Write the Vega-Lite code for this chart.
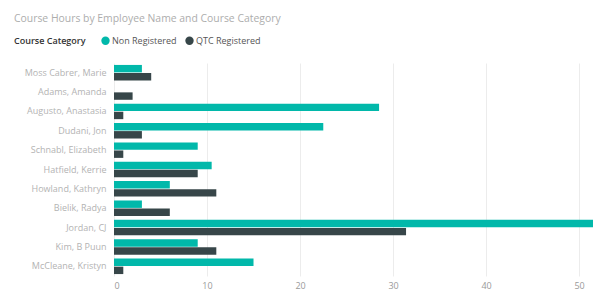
{
  "$schema": "https://vega.github.io/schema/vega-lite/v6.json",
  "autosize": {"type": "fit", "contains": "padding"},
  "width": 593,
  "height": 291,
  "padding": {"left": 10, "top": 13, "right": 0, "bottom": 0},
  "background": "white",
  "title": {
    "text": "Course Hours by Employee Name and Course Category",
    "anchor": "start",
    "frame": "bounds",
    "font": "Open Sans",
    "fontSize": 10.4,
    "fontWeight": "normal",
    "color": "#adadad",
    "offset": 39,
    "dx": 4
  },
  "data": {
    "values": [
      {"name": "Moss Cabrer, Marie", "category": "Non Registered", "hours": 3},
      {"name": "Moss Cabrer, Marie", "category": "QTC Registered", "hours": 4},
      {"name": "Adams, Amanda", "category": "QTC Registered", "hours": 2},
      {"name": "Augusto, Anastasia", "category": "Non Registered", "hours": 28.5},
      {"name": "Augusto, Anastasia", "category": "QTC Registered", "hours": 1},
      {"name": "Dudani, Jon", "category": "Non Registered", "hours": 22.5},
      {"name": "Dudani, Jon", "category": "QTC Registered", "hours": 3},
      {"name": "Schnabl, Elizabeth", "category": "Non Registered", "hours": 9},
      {"name": "Schnabl, Elizabeth", "category": "QTC Registered", "hours": 1},
      {"name": "Hatfield, Kerrie", "category": "Non Registered", "hours": 10.5},
      {"name": "Hatfield, Kerrie", "category": "QTC Registered", "hours": 9},
      {"name": "Howland, Kathryn", "category": "Non Registered", "hours": 6},
      {"name": "Howland, Kathryn", "category": "QTC Registered", "hours": 11},
      {"name": "Bielik, Radya", "category": "Non Registered", "hours": 3},
      {"name": "Bielik, Radya", "category": "QTC Registered", "hours": 6},
      {"name": "Jordan, CJ", "category": "Non Registered", "hours": 56},
      {"name": "Jordan, CJ", "category": "QTC Registered", "hours": 31.4},
      {"name": "Kim, B Puun", "category": "Non Registered", "hours": 9},
      {"name": "Kim, B Puun", "category": "QTC Registered", "hours": 11},
      {"name": "McCleane, Kristyn", "category": "Non Registered", "hours": 15},
      {"name": "McCleane, Kristyn", "category": "QTC Registered", "hours": 1}
    ]
  },
  "mark": {"type": "bar", "clip": true},
  "encoding": {
    "y": {
      "field": "name",
      "type": "nominal",
      "sort": null,
      "title": null,
      "scale": {"paddingInner": 0.2, "paddingOuter": 0.1},
      "axis": {
        "domain": false,
        "ticks": false,
        "labelFont": "Open Sans",
        "labelFontSize": 9,
        "labelColor": "#b3b3b3",
        "labelPadding": 8,
        "minExtent": 104,
        "maxExtent": 104,
        "labelLimit": 100
      }
    },
    "yOffset": {"field": "category", "type": "nominal", "scale": {"paddingInner": 0.08}},
    "x": {
      "field": "hours",
      "type": "quantitative",
      "title": null,
      "scale": {"domain": [0, 51.5], "nice": false},
      "axis": {
        "values": [0, 10, 20, 30, 40, 50],
        "domain": false,
        "ticks": false,
        "grid": true,
        "gridColor": "#ececec",
        "labelFont": "Open Sans",
        "labelFontSize": 9,
        "labelColor": "#9a9a9a",
        "labelPadding": 5,
        "minExtent": 15,
        "maxExtent": 15
      }
    },
    "color": {
      "field": "category",
      "type": "nominal",
      "scale": {"domain": ["Non Registered", "QTC Registered"], "range": ["#01B8AA", "#374649"]},
      "legend": {
        "title": "Course Category",
        "orient": "none",
        "legendX": -100,
        "legendY": -27,
        "direction": "horizontal",
        "titleOrient": "left",
        "titleFont": "Open Sans",
        "titleFontSize": 9,
        "titleFontWeight": 600,
        "titleColor": "#333333",
        "titlePadding": 15,
        "labelFont": "Open Sans",
        "labelFontSize": 9,
        "labelColor": "#555555",
        "symbolType": "circle",
        "symbolSize": 70,
        "symbolStrokeWidth": 0,
        "labelOffset": 2,
        "columnPadding": 8
      }
    }
  },
  "config": {"view": {"stroke": null}}
}
